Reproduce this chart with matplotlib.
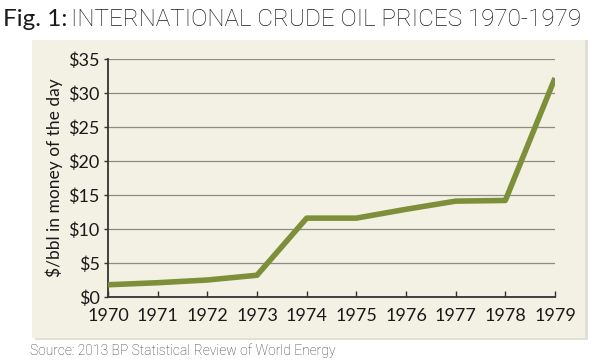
import matplotlib
matplotlib.use('Agg')
import matplotlib.pyplot as plt
from matplotlib.patches import Rectangle

years = [1970, 1971, 1972, 1973, 1974, 1975, 1976, 1977, 1978, 1979]
prices = [1.8, 2.1, 2.5, 3.2, 11.6, 11.6, 12.9, 14.1, 14.2, 32.2]
yticks = [0, 5, 10, 15, 20, 25, 30, 35]

plt.rcParams['font.family'] = ['Lato', 'DejaVu Sans']

fig = plt.figure(figsize=(6, 3.6), dpi=100)
fig.patch.set_facecolor('white')

# beige panel with a soft shadow
fig.patches.append(Rectangle((0.058, 0.055), 0.922, 0.835, transform=fig.transFigure,
                             facecolor='#e2e0d6', edgecolor='none', zorder=-2))
fig.patches.append(Rectangle((0.053, 0.062), 0.922, 0.828, transform=fig.transFigure,
                             facecolor='#f3f1e4', edgecolor='none', zorder=-1))

t1 = fig.text(0.005, 0.945, 'Fig. 1:', fontsize=17.5, va='center', ha='left',
              color='#1a1a1a')
fig.canvas.draw()
x1 = fig.transFigure.inverted().transform((t1.get_window_extent().x1 + 4, 0))[0]
fig.text(x1, 0.945, 'INTERNATIONAL CRUDE OIL PRICES 1970-1979', fontsize=17.5,
         fontweight='light', va='center', ha='left', color='#1a1a1a',
         family=['Roboto', 'DejaVu Sans'])
fig.text(0.05, 0.025, 'Source: 2013 BP Statistical Review of World Energy',
         fontsize=10, fontweight='light', va='center', ha='left', color='#3a3a3a',
         family=['Roboto', 'DejaVu Sans'])

ax = fig.add_axes([0.18, 0.175, 0.745, 0.661])
ax.set_zorder(2)
ax.set_facecolor('none')
ax.plot(years, prices, color='#7d9039', lw=4, solid_capstyle='butt', zorder=3)

ax.set_xlim(1970, 1979)
ax.set_ylim(0, 35)
ax.set_xticks(years)
ax.set_xticklabels([str(y) for y in years])
ax.set_yticks(yticks)
ax.set_yticklabels(['$' + str(v) for v in yticks])
for v in yticks[1:]:
    ax.axhline(v, color='#8c8b82', lw=0.9, zorder=1)

for s in ['top', 'right']:
    ax.spines[s].set_visible(False)
for s in ['left', 'bottom']:
    ax.spines[s].set_color('#333333')
    ax.spines[s].set_linewidth(1.3)
ax.tick_params(axis='x', direction='in', length=4, width=1, color='#333333',
               labelsize=13, pad=8, labelcolor='#1a1a1a')
ax.tick_params(axis='y', direction='out', length=3, width=1, color='#333333',
               labelsize=13, pad=3, labelcolor='#1a1a1a')
ax.set_ylabel('$/bbl in money of the day', fontsize=12.5, color='#1a1a1a', labelpad=4)

fig.savefig('out.png', dpi=100)
